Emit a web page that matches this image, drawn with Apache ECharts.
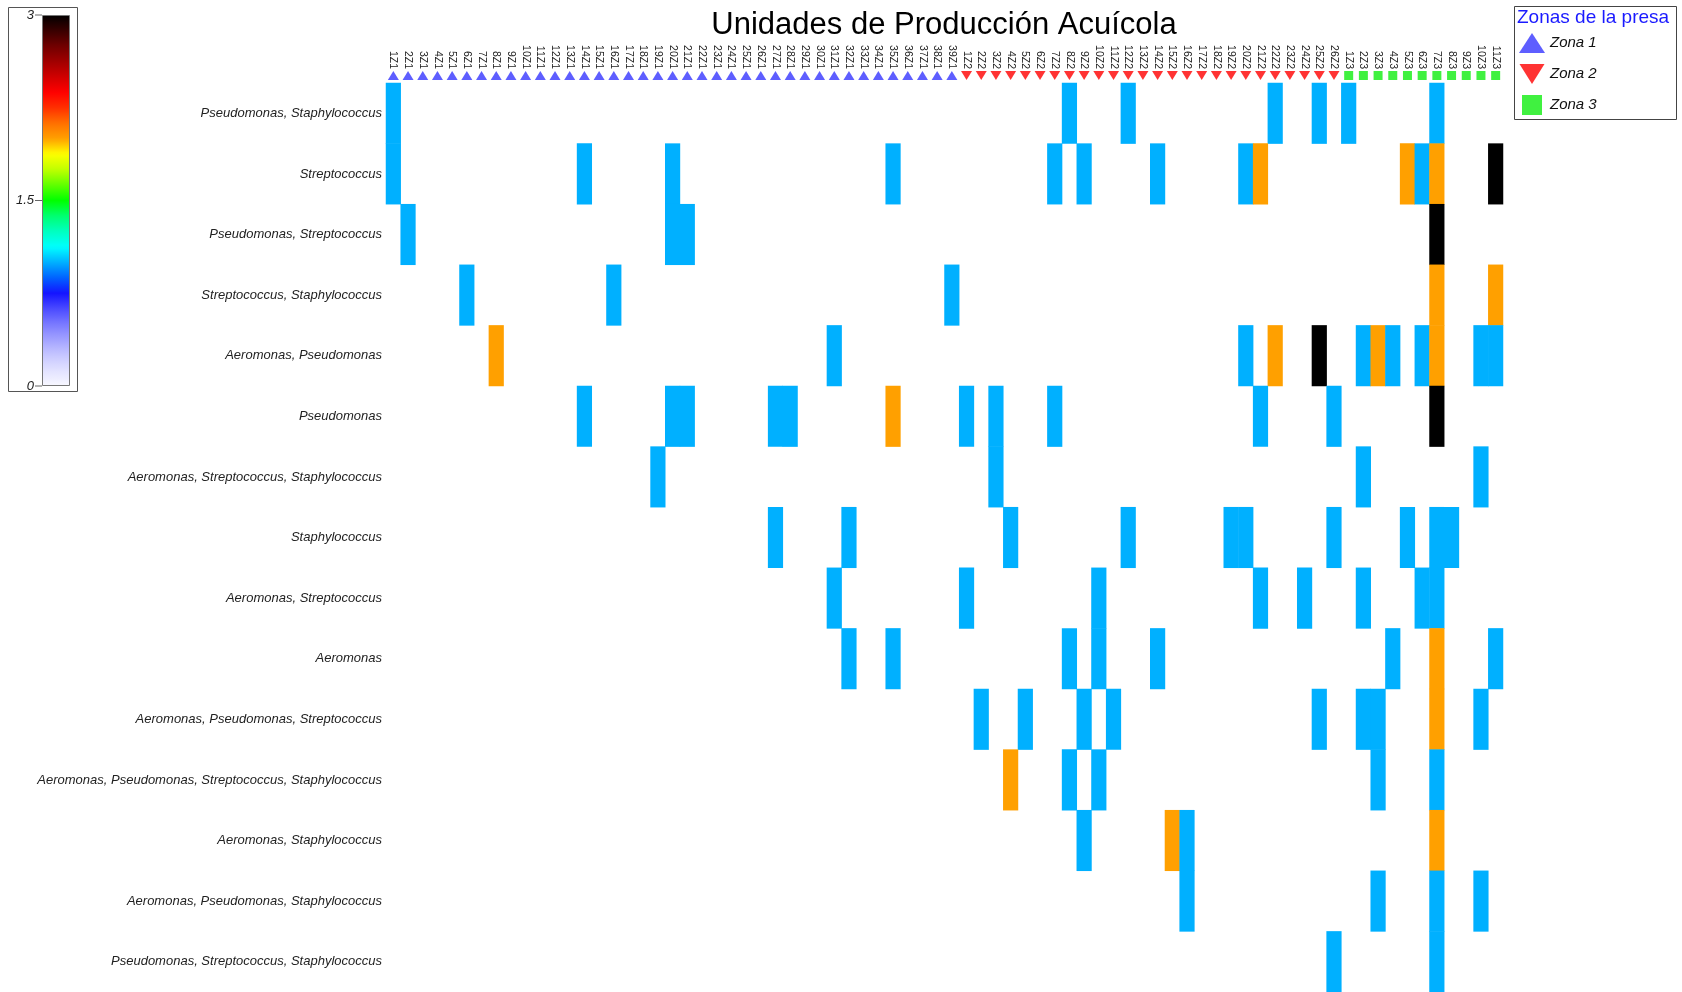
<!DOCTYPE html>
<html>
<head>
<meta charset="utf-8">
<title>Unidades de Producción Acuícola</title>
<script src="https://cdn.jsdelivr.net/npm/echarts@6/dist/echarts.min.js"></script>
<style>
  html, body { margin: 0; padding: 0; background: #ffffff; }
  #chart { width: 1682px; height: 992px; }
</style>
</head>
<body>
<div id="chart"></div>
<script>
// Production units, grouped by dam zone
const zone1Units = ['1Z1','2Z1','3Z1','4Z1','5Z1','6Z1','7Z1','8Z1','9Z1','10Z1','11Z1','12Z1','13Z1',
  '14Z1','15Z1','16Z1','17Z1','18Z1','19Z1','20Z1','21Z1','22Z1','23Z1','24Z1','25Z1','26Z1',
  '27Z1','28Z1','29Z1','30Z1','31Z1','32Z1','33Z1','34Z1','35Z1','36Z1','37Z1','38Z1','39Z1'];
const zone2Units = ['1Z2','2Z2','3Z2','4Z2','5Z2','6Z2','7Z2','8Z2','9Z2','10Z2','11Z2','12Z2','13Z2',
  '14Z2','15Z2','16Z2','17Z2','18Z2','19Z2','20Z2','21Z2','22Z2','23Z2','24Z2','25Z2','26Z2'];
const zone3Units = ['1Z3','2Z3','3Z3','4Z3','5Z3','6Z3','7Z3','8Z3','9Z3','10Z3','11Z3'];

// Bacterial genus combinations (rows, top to bottom)
const bacteriaGroups = [
  'Pseudomonas, Staphylococcus',
  'Streptococcus',
  'Pseudomonas, Streptococcus',
  'Streptococcus, Staphylococcus',
  'Aeromonas, Pseudomonas',
  'Pseudomonas',
  'Aeromonas, Streptococcus, Staphylococcus',
  'Staphylococcus',
  'Aeromonas, Streptococcus',
  'Aeromonas',
  'Aeromonas, Pseudomonas, Streptococcus',
  'Aeromonas, Pseudomonas, Streptococcus, Staphylococcus',
  'Aeromonas, Staphylococcus',
  'Aeromonas, Pseudomonas, Staphylococcus',
  'Pseudomonas, Streptococcus, Staphylococcus'
];

// Occurrences per combination: [unit, count]
const pseudStaph = [['1Z1',1],['8Z2',1],['12Z2',1],['22Z2',1],['25Z2',1],['1Z3',1],['7Z3',1]];
const strep = [['1Z1',1],['14Z1',1],['20Z1',1],['35Z1',1],['7Z2',1],['9Z2',1],['14Z2',1],['20Z2',1],
  ['21Z2',2],['5Z3',2],['6Z3',1],['7Z3',2],['11Z3',3]];
const pseudStrep = [['2Z1',1],['20Z1',1],['21Z1',1],['7Z3',3]];
const strepStaph = [['6Z1',1],['16Z1',1],['39Z1',1],['7Z3',2],['11Z3',2]];
const aeroPseud = [['8Z1',2],['31Z1',1],['20Z2',1],['22Z2',2],['25Z2',3],['2Z3',1],['3Z3',2],['4Z3',1],
  ['6Z3',1],['7Z3',2],['10Z3',1],['11Z3',1]];
const pseud = [['14Z1',1],['20Z1',1],['21Z1',1],['27Z1',1],['28Z1',1],['35Z1',2],['1Z2',1],['3Z2',1],
  ['7Z2',1],['21Z2',1],['26Z2',1],['7Z3',3]];
const aeroStrepStaph = [['19Z1',1],['3Z2',1],['2Z3',1],['10Z3',1]];
const staph = [['27Z1',1],['32Z1',1],['4Z2',1],['12Z2',1],['19Z2',1],['20Z2',1],['26Z2',1],['5Z3',1],
  ['7Z3',1],['8Z3',1]];
const aeroStrep = [['31Z1',1],['1Z2',1],['10Z2',1],['21Z2',1],['24Z2',1],['2Z3',1],['6Z3',1],['7Z3',1]];
const aero = [['32Z1',1],['35Z1',1],['8Z2',1],['10Z2',1],['14Z2',1],['4Z3',1],['7Z3',2],['11Z3',1]];
const aeroPseudStrep = [['2Z2',1],['5Z2',1],['9Z2',1],['11Z2',1],['25Z2',1],['2Z3',1],['3Z3',1],['7Z3',2],['10Z3',1]];
const aeroPseudStrepStaph = [['4Z2',2],['8Z2',1],['10Z2',1],['3Z3',1],['7Z3',1]];
const aeroStaph = [['9Z2',1],['15Z2',2],['16Z2',1],['7Z3',2]];
const aeroPseudStaph = [['16Z2',1],['3Z3',1],['7Z3',1],['10Z3',1]];
const pseudStrepStaph = [['26Z2',1],['7Z3',1]];

const groupOccurrences = [pseudStaph, strep, pseudStrep, strepStaph, aeroPseud, pseud, aeroStrepStaph,
  staph, aeroStrep, aero, aeroPseudStrep, aeroPseudStrepStaph, aeroStaph, aeroPseudStaph, pseudStrepStaph];

// Colour scale range and its labelled ticks
const scaleMin = 0;
const scaleMax = 3;
const scaleTicks = [0, 1.5, 3];
const zoneNames = ['Zona 1', 'Zona 2', 'Zona 3'];

// ---- layout ----
const GRID_LEFT = 386, GRID_RIGHT = 179, GRID_TOP = 83, GRID_BOTTOM = 0;
const BAR_X = 42, BAR_Y = 15, BAR_W = 28, BAR_H = 371;
const FONT = '"Liberation Sans", Arial, Helvetica, sans-serif';

const units = zone1Units.concat(zone2Units, zone3Units);

const heatData = [];
groupOccurrences.forEach((row, r) => {
  row.forEach(([unit, count]) => heatData.push([unit, bacteriaGroups[r], count]));
});

const scaleColors = [
  '#f8f8ff', '#e2e2ff', '#c6c6ff', '#a2a2ff', '#7a7aff', '#4a4aff', '#1414ff', '#0062ff',
  '#00b0ff', '#00ffff', '#00ffc0', '#00ff70', '#00ff00', '#60ff00', '#c0ff00', '#ffff00',
  '#ffa000', '#ff7000', '#ff3000', '#ff0000', '#d00000', '#a00000', '#700000', '#380000', '#000000'
];

const chart = echarts.init(document.getElementById('chart'), null, { renderer: 'canvas' });

const tickGraphics = [];
scaleTicks.forEach(t => {
  const y = BAR_Y + BAR_H * (1 - (t - scaleMin) / (scaleMax - scaleMin));
  tickGraphics.push({
    type: 'line', silent: true,
    shape: { x1: BAR_X - 7, y1: y, x2: BAR_X, y2: y },
    style: { stroke: '#666', lineWidth: 1 }
  });
  tickGraphics.push({
    type: 'text', silent: true,
    x: BAR_X - 8, y: y,
    style: {
      text: String(t), fill: '#222', font: 'italic 13px ' + FONT,
      textAlign: 'right', textVerticalAlign: 'middle'
    }
  });
});

const option = {
  backgroundColor: '#ffffff',
  animation: false,
  title: [{
    text: 'Unidades de Producción Acuícola',
    left: 944, top: 10, textAlign: 'center', padding: 0,
    textStyle: { fontFamily: FONT, fontSize: 31, fontWeight: 'normal', color: '#000' }
  }, {
    text: 'Zonas de la presa',
    left: 1517, top: 8, padding: 0,
    textStyle: { fontFamily: FONT, fontSize: 19, fontWeight: 'normal', color: '#1a1aff' }
  }],
  grid: [
    { left: GRID_LEFT, right: GRID_RIGHT, top: GRID_TOP, bottom: GRID_BOTTOM },
    { left: GRID_LEFT, right: GRID_RIGHT, top: 70, height: 11 }
  ],
  xAxis: [{
    type: 'category', gridIndex: 0, data: units, position: 'top',
    axisLine: { show: false }, axisTick: { show: false }, splitLine: { show: false },
    axisLabel: { rotate: 90, interval: 0, margin: 14, fontSize: 10.5, color: '#222', fontFamily: FONT }
  }, {
    type: 'category', gridIndex: 1, data: units, show: false
  }],
  yAxis: [{
    type: 'category', gridIndex: 0, data: bacteriaGroups, inverse: true,
    axisLine: { show: false }, axisTick: { show: false }, splitLine: { show: false },
    axisLabel: { fontStyle: 'italic', fontSize: 13, color: '#222', margin: 4, fontFamily: FONT }
  }, {
    type: 'value', gridIndex: 1, min: -1, max: 1, show: false
  }],
  visualMap: {
    type: 'continuous', seriesIndex: 0, min: scaleMin, max: scaleMax,
    orient: 'vertical', left: BAR_X, top: BAR_Y, padding: 0,
    itemWidth: BAR_W, itemHeight: BAR_H, calculable: false, hoverLink: false,
    text: null, showLabel: false,
    inRange: { color: scaleColors }
  },
  legend: {
    orient: 'vertical', left: 1519, top: 33, padding: 0,
    itemWidth: 26, itemHeight: 20, itemGap: 11, selectedMode: false,
    data: zoneNames,
    textStyle: { fontFamily: FONT, fontSize: 15, fontStyle: 'italic', color: '#111' }
  },
  graphic: [
    { type: 'rect', silent: true, shape: { x: 8.5, y: 7.5, width: 69, height: 384 },
      style: { fill: 'none', stroke: '#555', lineWidth: 1 } },
    { type: 'rect', silent: true, z: 100, shape: { x: BAR_X + 0.5, y: BAR_Y + 0.5, width: BAR_W - 1, height: BAR_H - 1 },
      style: { fill: 'none', stroke: '#777', lineWidth: 1 } },
    { type: 'rect', silent: true, shape: { x: 1514.5, y: 6.5, width: 162, height: 113 },
      style: { fill: 'none', stroke: '#444', lineWidth: 1 } }
  ].concat(tickGraphics),
  series: [{
    type: 'heatmap', xAxisIndex: 0, yAxisIndex: 0,
    data: heatData, silent: true,
    itemStyle: { borderWidth: 0 },
    emphasis: { disabled: true }
  }, {
    name: zoneNames[0], type: 'scatter', xAxisIndex: 1, yAxisIndex: 1, silent: true,
    symbol: 'triangle', symbolSize: [11, 9],
    itemStyle: { color: '#3636ff' },
    data: zone1Units.map(u => [u, 0])
  }, {
    name: zoneNames[1], type: 'scatter', xAxisIndex: 1, yAxisIndex: 1, silent: true,
    symbol: 'path://M0,0L10,0L5,8Z', symbolSize: [11, 9],
    itemStyle: { color: '#ff0000' },
    data: zone2Units.map(u => [u, 0])
  }, {
    name: zoneNames[2], type: 'scatter', xAxisIndex: 1, yAxisIndex: 1, silent: true,
    symbol: 'path://M0,0L10,0L10,10L0,10Z', symbolKeepAspect: true, symbolSize: [9, 9],
    itemStyle: { color: '#10ee10' },
    data: zone3Units.map(u => [u, 0])
  }]
};

chart.setOption(option);
</script>
</body>
</html>
